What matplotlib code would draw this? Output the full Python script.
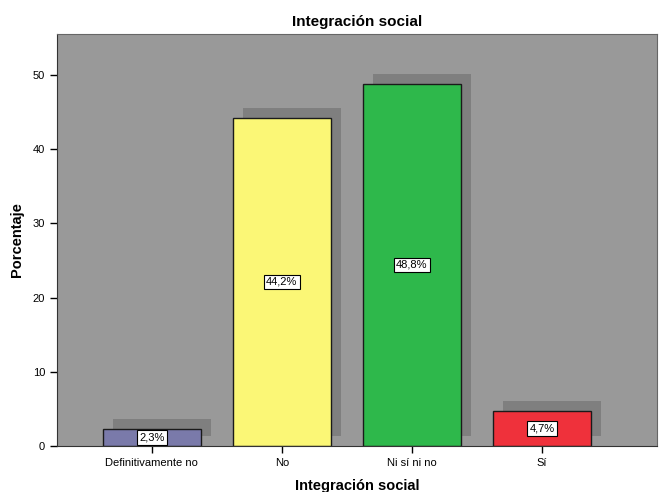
import matplotlib

matplotlib.use("Agg", force=True)
import matplotlib.pyplot as plt
import matplotlib.transforms as mtransforms

categories = ["Definitivamente no", "No", "Ni sí ni no", "Sí"]
percentages = [2.3, 44.2, 48.8, 4.7]
value_labels = ["2,3%", "44,2%", "48,8%", "4,7%"]
bar_colors = ["#7a7aaa", "#fbf776", "#2eb84b", "#ef313b"]
y_ticks = [0, 10, 20, 30, 40, 50]

plt.rcParams["font.family"] = ["Liberation Sans", "DejaVu Sans"]

fig = plt.figure(figsize=(6.59, 4.92), dpi=100)
ax = fig.add_axes([57 / 659, 46 / 492, 600 / 659, 412 / 492])
ax.set_facecolor("#999999")

x = list(range(len(categories)))
width = 0.75

# drop shadow: same bars shifted 10 px right and up
shift = mtransforms.ScaledTranslation(10 / 100, 10 / 100, fig.dpi_scale_trans)
ax.bar(x, percentages, width=width, color="#7f7f7f", linewidth=0,
       transform=ax.transData + shift, zorder=1)
ax.bar(x, percentages, width=width, color=bar_colors, edgecolor="#1a1a1a",
       linewidth=1.0, zorder=2)

for xi, val, lab in zip(x, percentages, value_labels):
    ax.text(xi, val / 2, lab, ha="center", va="center", fontsize=8, zorder=3,
            bbox=dict(boxstyle="square,pad=0.2", facecolor="white",
                      edgecolor="black", linewidth=0.8))

ax.set_xlim(-0.73, 3.885)
ax.set_ylim(0, 55.5)
ax.set_xticks(x)
ax.set_xticklabels(categories, fontsize=8)
ax.set_yticks(y_ticks)
ax.tick_params(axis="y", labelsize=8, length=5, width=1)
ax.tick_params(axis="x", length=5, width=1)

for side in ["top", "right"]:
    ax.spines[side].set_color("#666666")
ax.spines["left"].set_color("#333333")
ax.spines["bottom"].set_color("#333333")

ax.set_title("Integración social", fontsize=11, fontweight="bold", pad=6)
ax.set_xlabel("Integración social", fontsize=10.5, fontweight="bold", labelpad=8)
ax.set_ylabel("Porcentaje", fontsize=10.5, fontweight="bold", labelpad=6)

fig.savefig("out.png", dpi=100)
plt.close(fig)
